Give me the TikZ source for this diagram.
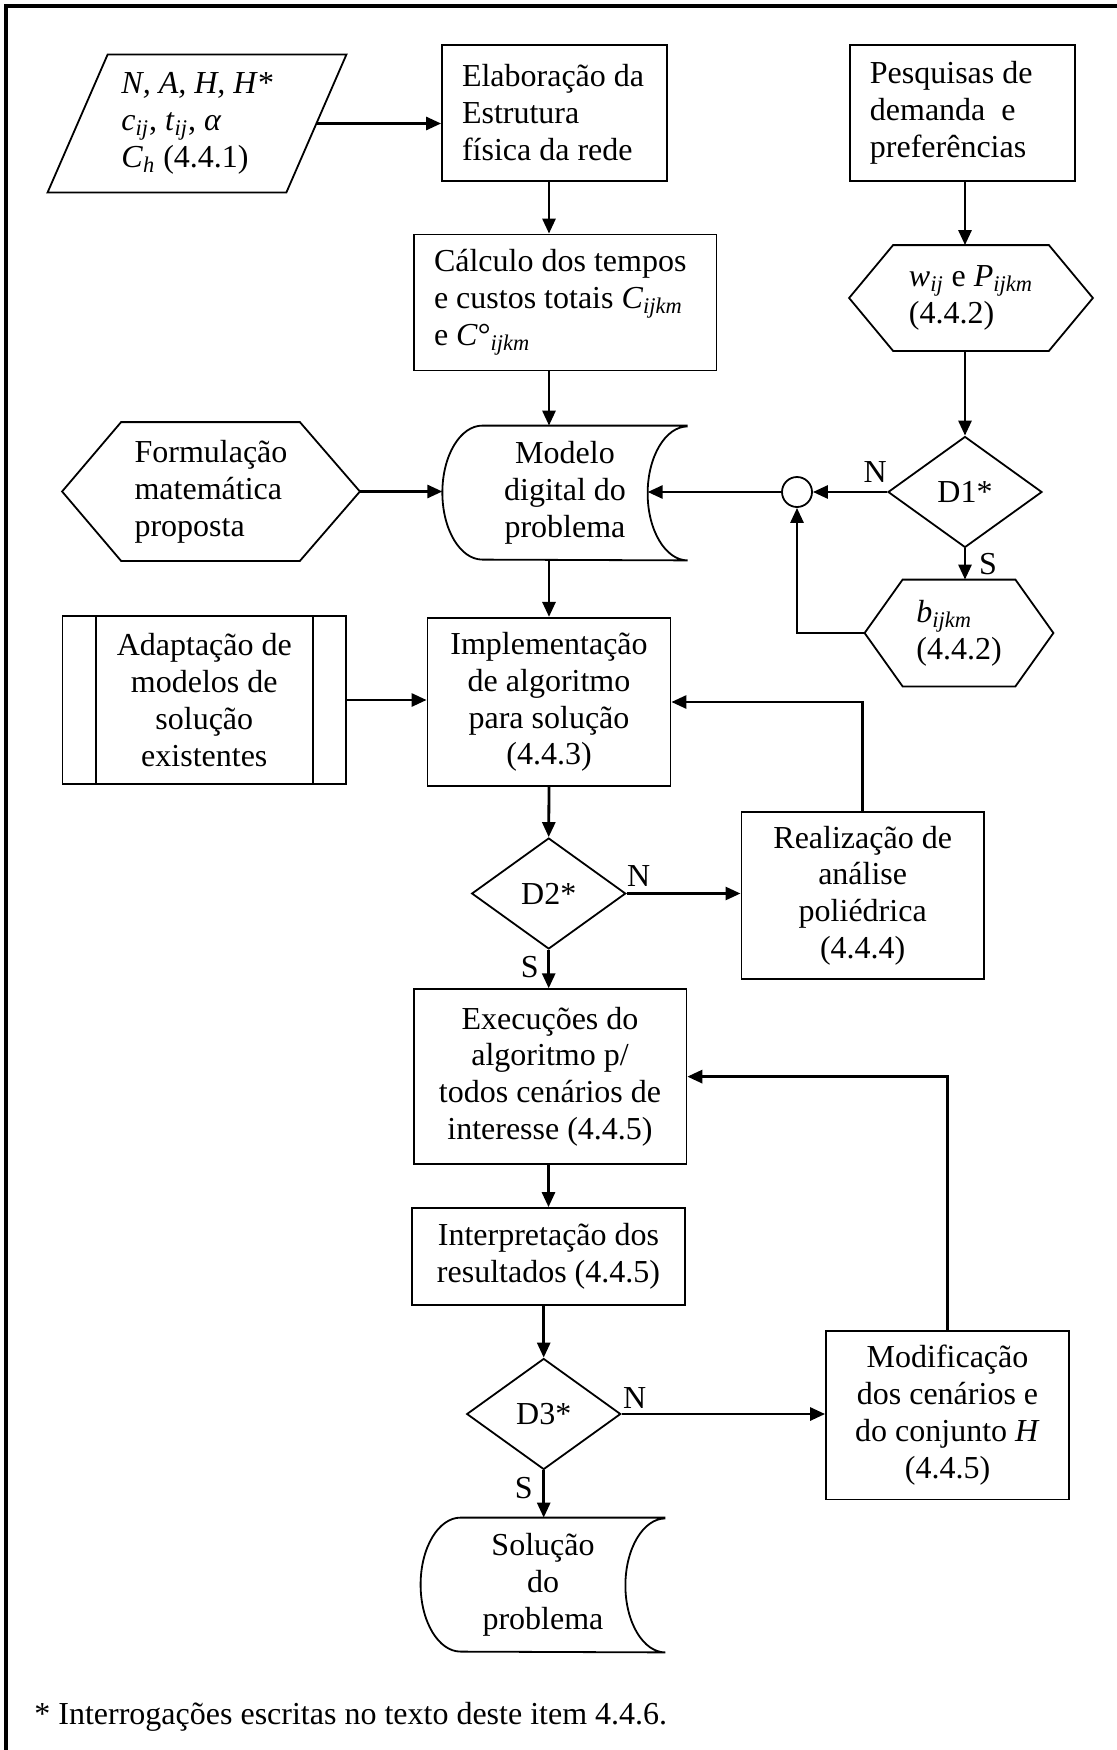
\documentclass[tikz,border=0pt]{standalone}
\usepackage{fontspec}
\setmainfont{Liberation Serif}
\usetikzlibrary{shapes.geometric,arrows.meta,calc}

\begin{document}
\begin{tikzpicture}[x=0.5pt,y=-0.5pt,
  every node/.style={font=\fontsize{16pt}{18.4pt}\selectfont, inner sep=0pt},
  caixa/.style={draw, line width=0.9pt, rectangle, align=center},
  caixaesq/.style={draw, line width=0.9pt, rectangle, align=flush left},
  forma/.style={rectangle, align=flush left},
  decisao/.style={draw, line width=0.9pt, diamond, minimum width=77pt, minimum height=55.5pt},
  contorno/.style={line width=0.9pt},
  seta/.style={line width=1.4pt, -{Triangle[length=7.5pt,width=6.5pt]}}]
\useasboundingbox (0,0) rectangle (1116,1750);
\draw[line width=1.6pt] (6,1800) -- (6,6) -- (1200,6);

\path (197,123.5) node[forma, minimum width=119pt, minimum height=68.5pt](dados){\textit{N, A, H, H*}\\\textit{c}\textsubscript{\textit{ij}}, \textit{t}\textsubscript{\textit{ij}}, \textit{α}\\\textit{C}\textsubscript{\textit{h}} (4.4.1)}
  (554.5,112.7) node[caixaesq, minimum width=112.5pt, minimum height=68pt, text width=92.5pt](elab){Elaboração da\\Estrutura\\física da rede}
  (565,302.5) node[caixaesq, minimum width=151.4pt, minimum height=68pt, text width=131pt](calc){Cálculo dos tempos\\e custos totais \textit{C}\textsubscript{\textit{ijkm}}\\e \textit{C}°\textsubscript{\textit{ijkm}}}
  (962.4,112.7) node[caixaesq, minimum width=112.5pt, minimum height=68pt, text width=92.5pt](pesq){Pesquisas de\\demanda\ \ e\\preferências}
  (971,298) node[forma, minimum width=121.5pt, minimum height=52.5pt](wp){\textit{w}\textsubscript{\textit{ij}} e \textit{P}\textsubscript{\textit{ijkm}}\\(4.4.2)}
  (965,492) node[decisao](d1){D1*}
  (959,633) node[forma, minimum width=94pt, minimum height=53pt](bh){\textit{b}\textsubscript{\textit{ijkm}}\\(4.4.2)}
  (797,492) node[circle, draw, line width=0.9pt, minimum size=15pt](junc){}
  (565,493) node[forma, align=center, minimum width=122.25pt, minimum height=67pt](modelo){Modelo\\digital do\\problema}
  (211,491.5) node[forma, minimum width=148.5pt, minimum height=69pt](form){Formulação\\matemática\\proposta}
  (204.3,700) node[caixa, minimum width=141.8pt, minimum height=84pt](adapt){Adaptação de\\modelos de\\solução\\existentes}
  (549,702) node[caixa, minimum width=121.5pt, minimum height=84.2pt](impl){Implementação\\de algoritmo\\para solução\\(4.4.3)}
  (548.7,893.5) node[decisao](d2){D2*}
  (862.7,895.5) node[caixa, minimum width=121.3pt, minimum height=83.8pt](real){Realização de\\análise\\poliédrica\\(4.4.4)}
  (550,1076.6) node[caixa, minimum width=136.4pt, minimum height=87.4pt](exec){Execuções do\\algoritmo p/\\todos cenários de\\interesse (4.4.5)}
  (548.5,1256.5) node[caixa, minimum width=136.5pt, minimum height=48.5pt](interp){Interpretação dos\\resultados (4.4.5)}
  (543.7,1414) node[decisao](d3){D3*}
  (947.5,1415.2) node[caixa, minimum width=121.5pt, minimum height=84.2pt](modif){Modificação\\dos cenários e\\do conjunto \textit{H}\\(4.4.5)}
  (543,1585) node[forma, align=center, minimum width=122pt, minimum height=67pt](sol){Solução\\do\\problema}
  (34,1724.7) node[anchor=base west](nota){* Interrogações escritas no texto deste item 4.4.6.};

% contornos das formas especiais
\draw[contorno] ($(dados.north west)+(30,0)$) -- ($(dados.north east)+(30,0)$) -- ($(dados.south east)+(-30,0)$) -- ($(dados.south west)+(-30,0)$) -- cycle;
\draw[contorno] ($(wp.north west)+(44,0)$) -- ($(wp.north east)+(-44,0)$) -- (wp.east) -- ($(wp.south east)+(-44,0)$) -- ($(wp.south west)+(44,0)$) -- (wp.west) -- cycle;
\draw[contorno] ($(bh.north west)+(38,0)$) -- ($(bh.north east)+(-38,0)$) -- (bh.east) -- ($(bh.south east)+(-38,0)$) -- ($(bh.south west)+(38,0)$) -- (bh.west) -- cycle;
\draw[contorno] ($(form.north west)+(59,0)$) -- ($(form.north east)+(-60,0)$) -- (form.east) -- ($(form.south east)+(-60,0)$) -- ($(form.south west)+(59,0)$) -- (form.west) -- cycle;
\draw[contorno] (modelo.north east) -- ($(modelo.north west)+(40,0)$) arc[start angle=90, end angle=270, x radius=20pt, y radius=33.5pt] -- (modelo.south east) arc[start angle=270, end angle=90, x radius=20pt, y radius=33.5pt];
\draw[contorno] (sol.north east) -- ($(sol.north west)+(40,0)$) arc[start angle=90, end angle=270, x radius=20pt, y radius=33.5pt] -- (sol.south east) arc[start angle=270, end angle=90, x radius=20pt, y radius=33.5pt];
\draw[contorno] ($(adapt.north west)+(34,0)$) -- ($(adapt.south west)+(34,0)$);
\draw[contorno] ($(adapt.north east)+(-34,0)$) -- ($(adapt.south east)+(-34,0)$);
\coordinate (modelo-in) at ($(modelo.east)+(-40,0)$);

% rotulos das decisoes
\path ($(d1.west)+(-12,-20)$) node(n1){N} ($(d1.south)+(23,16)$) node(s1){S}
  ($(d2.east)+(12,-17)$) node(n2){N} ($(d2.south)+(-19,17)$) node(s2){S}
  ($(d3.east)+(13,-16)$) node(n3){N} ($(d3.south)+(-20,18)$) node(s3){S};

\draw[seta] (dados.east) -- (dados.east -| elab.west);
\draw[seta] (elab.south -| impl.north) -- (calc.north -| impl.north);
\draw[seta] (calc.south -| impl.north) -- (modelo.north -| impl.north);
\draw[seta] (modelo.south -| impl.north) -- (impl.north);
\draw[seta] (pesq.south -| d1.north) -- (wp.north -| d1.north);
\draw[seta] (wp.south -| d1.north) -- (d1.north);
\draw[seta] (d1.south) -- (bh.north -| d1.south);
\draw[seta] (d1.west) -- (junc.east);
\draw[seta] (bh.west) -| (junc.south);
\draw[seta] (junc.west) -- (junc.west -| modelo-in);
\draw[seta] (form.east) -- (form.east -| modelo.west);
\draw[seta] (adapt.east) -- (adapt.east -| impl.west);
\draw[seta] (real.north) |- (impl.east);
\draw[seta] (impl.south) -- (d2.north);
\draw[seta] (d2.east) -- (d2.east -| real.west);
\draw[seta] (d2.south) -- (exec.north -| d2.south);
\draw[seta] (modif.north) |- (exec.east);
\draw[seta] (exec.south -| interp.north) -- (interp.north);
\draw[seta] (interp.south -| d3.north) -- (d3.north);
\draw[seta] (d3.east) -- (d3.east -| modif.west);
\draw[seta] (d3.south) -- (sol.north -| d3.south);
\end{tikzpicture}
\end{document}
